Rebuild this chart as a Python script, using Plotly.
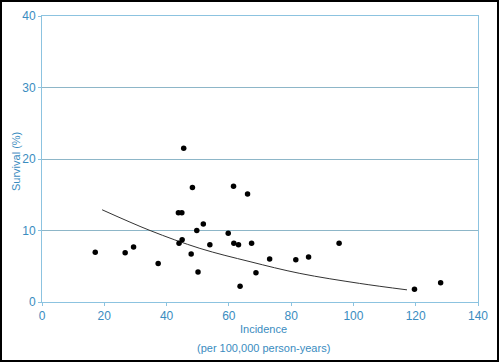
import plotly.graph_objects as go

# Scatter data
incidence = [17.1, 26.7, 29.4, 37.3, 43.8, 44.9, 44.0, 45.0, 45.5, 48.3, 47.9,
             49.7, 50.1, 51.8, 53.9, 59.8, 61.5, 61.6, 63.1, 63.6, 66.0, 67.3,
             68.7, 73.1, 81.5, 85.6, 95.4, 119.6, 128.0]
survival = [6.95, 6.9, 7.7, 5.4, 12.5, 12.5, 8.2, 8.7, 21.5, 16.0, 6.7,
            10.0, 4.2, 10.9, 8.0, 9.6, 16.2, 8.2, 8.0, 2.2, 15.1, 8.2,
            4.1, 6.0, 5.9, 6.3, 8.2, 1.8, 2.7]

# Trend curve points
trend_x = [19.3, 34.7, 50.7, 66.8, 82.8, 102.0, 117.2]
trend_y = [12.9, 10.0, 7.5, 5.64, 4.0, 2.6, 1.7]

x_ticks = [0, 20, 40, 60, 80, 100, 120, 140]
y_ticks = [0, 10, 20, 30, 40]

BLUE_TXT = "#3a8cc0"
AXIS_CLR = "#8cc3e0"
GRID_CLR = "#8db6c8"
FONT = "Liberation Sans, Arial, sans-serif"

fig = go.Figure()
fig.add_trace(go.Scatter(x=trend_x, y=trend_y, mode="lines",
                         line=dict(color="#333333", width=1, shape="spline"),
                         hoverinfo="skip", showlegend=False))
fig.add_trace(go.Scatter(x=incidence, y=survival, mode="markers",
                         marker=dict(color="black", size=5.5),
                         showlegend=False))

L, R, T, B = 42, 22, 16, 62
W, H = 500, 364
pw, ph = W - L - R, H - T - B

fig.update_layout(
    width=W, height=H,
    margin=dict(l=L, r=R, t=T, b=B, autoexpand=False),
    paper_bgcolor="white", plot_bgcolor="white",
    font=dict(family=FONT, size=11, color=BLUE_TXT),
    xaxis=dict(range=[0, 140], tickvals=x_ticks, showgrid=False, automargin=False,
               showline=True, linecolor=AXIS_CLR, linewidth=1, mirror=True,
               ticks="outside", ticklen=3, tickcolor=AXIS_CLR,
               zeroline=False, tickfont=dict(size=12, color=BLUE_TXT)),
    yaxis=dict(range=[0, 40], tickvals=y_ticks, showgrid=True, automargin=False,
               gridcolor=GRID_CLR, gridwidth=1,
               showline=True, linecolor=AXIS_CLR, linewidth=1, mirror=True,
               ticks="outside", ticklen=3, tickcolor=AXIS_CLR,
               zeroline=False, tickfont=dict(size=12, color=BLUE_TXT)),
    annotations=[
        dict(text="Survival (%)", xref="paper", yref="paper",
             x=(16 - L) / pw, y=(H - B - 162) / ph, showarrow=False,
             textangle=-90, xanchor="center", yanchor="middle",
             font=dict(size=11, color=BLUE_TXT)),
        dict(text="Incidence", xref="paper", yref="paper",
             x=(263.7 - L) / pw, y=(H - B - 328.7) / ph, showarrow=False,
             xanchor="center", yanchor="middle",
             font=dict(size=11, color=BLUE_TXT)),
        dict(text="(per 100,000 person-years)", xref="paper", yref="paper",
             x=(263.7 - L) / pw, y=(H - B - 347.7) / ph, showarrow=False,
             xanchor="center", yanchor="middle",
             font=dict(size=11, color=BLUE_TXT)),
    ],
    shapes=[
        dict(type="rect", xref="paper", yref="paper",
             x0=(1 - L) / pw, x1=(498 - L) / pw,
             y0=(H - B - 361) / ph, y1=(H - B - 1) / ph,
             line=dict(color="black", width=2), layer="above"),
    ],
)

fig.write_html("out.html", config={"displayModeBar": False},
               post_script="document.body.style.margin='0';")
